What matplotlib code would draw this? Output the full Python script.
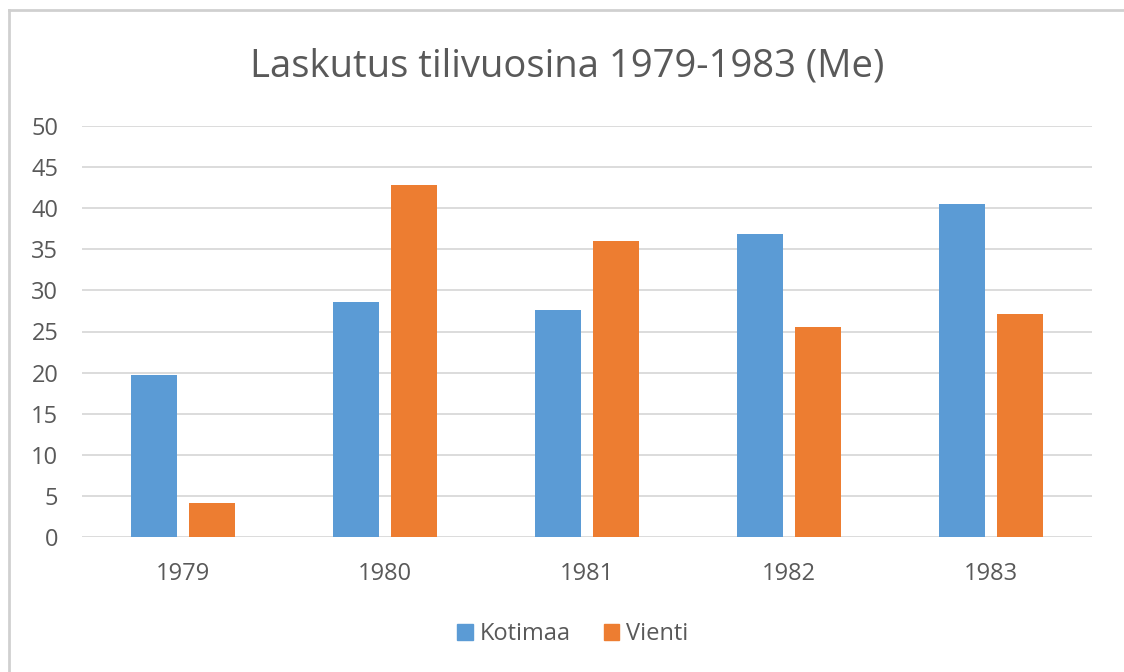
import matplotlib
matplotlib.use("Agg")
import matplotlib.pyplot as plt
from matplotlib.lines import Line2D
import numpy as np

years = ["1979", "1980", "1981", "1982", "1983"]
kotimaa = [19.7, 28.6, 27.6, 36.9, 40.5]
vienti = [4.1, 42.8, 36.0, 25.5, 27.1]
series_names = ["Kotimaa", "Vienti"]
yticks = [0, 5, 10, 15, 20, 25, 30, 35, 40, 45, 50]

W, H = 1124, 672
fig = plt.figure(figsize=(W / 100, H / 100), dpi=100)
plt.rcParams['font.family'] = ['Open Sans', 'DejaVu Sans']
txt = '#595959'
blue = '#5B9BD5'
orange = '#ED7D31'
grid = '#D9D9D9'

ax = fig.add_axes([82 / W, 1 - 537 / H, (1092 - 82) / W, (537 - 126) / H])
x = np.arange(len(years))
bw = 0.228
off = 0.142
ax.bar(x - off, kotimaa, bw, color=blue, label=series_names[0], zorder=3)
ax.bar(x + off, vienti, bw, color=orange, label=series_names[1], zorder=3)
ax.set_xlim(-0.5, len(years) - 0.5)
ax.set_ylim(0, 50)
ax.set_yticks(yticks)
ax.set_yticklabels([str(v) for v in yticks])
ax.set_xticks(x)
ax.set_xticklabels(years)
for s in ax.spines.values():
    s.set_visible(False)
ax.yaxis.grid(True, color=grid, linewidth=1.3, zorder=0)
ax.tick_params(axis='both', length=0, labelsize=17, labelcolor=txt)
ax.tick_params(axis='y', pad=17)
ax.tick_params(axis='x', pad=18)
ax.set_facecolor('white')

fig.text(0.5 * (250 + 884) / W, 1 - 67 / H, "Laskutus tilivuosina 1979-1983 (Me)",
         ha='center', va='center', fontsize=27.5, color=txt)

handles = [plt.Rectangle((0, 0), 1, 1, color=blue), plt.Rectangle((0, 0), 1, 1, color=orange)]
fig.legend(handles, series_names, loc='center', bbox_to_anchor=(573 / W, 1 - 634 / H),
           ncol=2, frameon=False, fontsize=17, handlelength=0.65, handleheight=0.65,
           handletextpad=0.3, columnspacing=1.4, labelcolor=txt)

# chart border
fig.add_artist(Line2D([9 / W, 1], [1 - 10 / H, 1 - 10 / H], transform=fig.transFigure,
                      color='#D0D0D0', linewidth=2))
fig.add_artist(Line2D([9 / W, 9 / W], [0, 1 - 10 / H], transform=fig.transFigure,
                      color='#D0D0D0', linewidth=2))

fig.savefig("out.png", dpi=100, facecolor='white')
